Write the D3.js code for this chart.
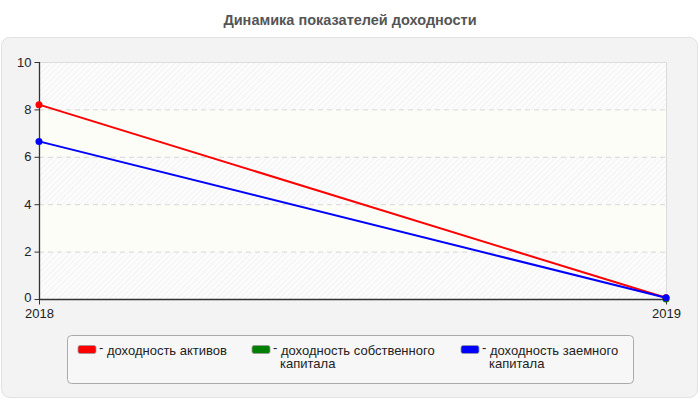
<!DOCTYPE html>
<html>
<head>
<meta charset="utf-8">
<script src="https://cdn.jsdelivr.net/npm/d3@7"></script>
<style>
	body { margin: 0; background: #fff; font-family: "Liberation Sans", Arial, sans-serif; }
	svg { display: block; }
</style>
</head>
<body>
<div id="chart"></div>
<script>
	// chart data
	const years = ['2018', '2019'];
	const seriesNames = ['доходность активов', 'доходность собственного капитала', 'доходность заемного капитала'];
	const seriesColors = ['#ff0000', '#008000', '#0000ff'];
	const assetsReturn = [8.2, 0.05];
	const equityReturn = [null, 0];
	const debtReturn = [6.65, 0.05];
	const yTicks = [0, 2, 4, 6, 8, 10];

	const width = 700;
	const height = 400;
	const margin = { top: 62, right: 34, bottom: 101, left: 39 };

	const svg = d3.select('#chart').append('svg').attr('width', width).attr('height', height);

	const defs = svg.append('defs');
	const hatch = defs.append('pattern')
		.attr('id', 'hatch')
		.attr('patternUnits', 'userSpaceOnUse')
		.attr('width', 4)
		.attr('height', 4)
		.attr('patternTransform', 'rotate(45)');
	hatch.append('rect').attr('width', 4).attr('height', 4).attr('fill', '#fcfcfc');
	hatch.append('line').attr('x1', 0).attr('y1', 0).attr('x2', 0).attr('y2', 4)
		.attr('stroke', '#ededed').attr('stroke-width', 1.2);

	// title
	svg.append('text')
		.attr('x', width / 2)
		.attr('y', 25)
		.attr('text-anchor', 'middle')
		.style('font-size', '14.5px')
		.style('font-weight', 'bold')
		.attr('fill', '#555')
		.text('Динамика показателей доходности');

	// panel
	svg.append('rect')
		.attr('x', 1.5).attr('y', 37.5)
		.attr('width', width - 4).attr('height', height - 40)
		.attr('rx', 8)
		.attr('fill', '#f3f3f3')
		.attr('stroke', '#e2e2e2');

	const x = d3.scalePoint().domain(years).range([margin.left, width - margin.right]);
	const y = d3.scaleLinear().domain([0, 10]).range([height - margin.bottom, margin.top]);

	// bands
	const bands = d3.pairs(yTicks);
	svg.append('g').selectAll('rect')
		.data(bands)
		.enter()
		.append('rect')
		.attr('x', margin.left)
		.attr('y', d => y(d[1]))
		.attr('width', width - margin.right - margin.left)
		.attr('height', d => y(d[0]) - y(d[1]))
		.attr('fill', (d, i) => i % 2 === 0 ? 'url(#hatch)' : '#fdfdf7');

	// grid
	svg.append('g').selectAll('line')
		.data(yTicks.slice(1, -1))
		.enter()
		.append('line')
		.attr('x1', margin.left)
		.attr('x2', width - margin.right)
		.attr('y1', d => y(d) + 0.5)
		.attr('y2', d => y(d) + 0.5)
		.attr('stroke', '#d8d8d8')
		.attr('stroke-dasharray', '5,4');

	// top/right frame of plot
	svg.append('path')
		.attr('d', `M${margin.left},${margin.top + 0.5}H${width - margin.right + 0.5}V${height - margin.bottom}`)
		.attr('fill', 'none')
		.attr('stroke', '#dcdcdc');

	// axes
	const yAxis = svg.append('g')
		.attr('transform', `translate(${margin.left + 0.5},0)`)
		.call(d3.axisLeft(y).tickValues(yTicks).tickSize(5).tickPadding(3));
	const xAxis = svg.append('g')
		.attr('transform', `translate(0,${height - margin.bottom + 0.5})`)
		.call(d3.axisBottom(x).tickSize(5).tickPadding(4));
	[yAxis, xAxis].forEach(a => {
		a.select('.domain').attr('stroke', '#333').attr('stroke-width', 1.3);
		a.selectAll('.tick line').attr('stroke', '#333');
		a.selectAll('text').attr('fill', '#222').style('font-size', '13px').style('font-family', '"Liberation Sans", Arial, sans-serif');
	});
	xAxis.select('.domain').attr('d', `M${margin.left},0H${width - margin.right}`);
	yAxis.select('.domain').attr('d', `M0,${height - margin.bottom}V${margin.top}`);
	// lift the "0" label a touch so it clears the year below
	yAxis.selectAll('.tick').filter(d => d === 0).select('text').attr('dy', '0.2em');

	// lines
	const allSeries = [assetsReturn, equityReturn, debtReturn];
	const line = d3.line()
		.defined(d => d != null)
		.x((d, i) => x(years[i]))
		.y(d => y(d));

	const order = [1, 0, 2];
	order.forEach(s => {
		const values = allSeries[s];
		svg.append('path')
			.datum(values)
			.attr('fill', 'none')
			.attr('stroke', seriesColors[s])
			.attr('stroke-width', 2)
			.attr('d', line);
		svg.append('g').selectAll('circle')
			.data(values.map((v, i) => ({ v, i })).filter(d => d.v != null))
			.enter()
			.append('circle')
			.attr('cx', d => x(years[d.i]))
			.attr('cy', d => y(d.v))
			.attr('r', 3.5)
			.attr('fill', seriesColors[s]);
	});

	// legend
	const legend = svg.append('g');
	legend.append('rect')
		.attr('x', 67.5).attr('y', 335.5)
		.attr('width', 566).attr('height', 48)
		.attr('rx', 4)
		.attr('fill', '#f7f7f7')
		.attr('stroke', '#aaa');

	const legendX = [78, 252, 461];
	const legendLines = [
		['доходность активов'],
		['доходность собственного', 'капитала'],
		['доходность заемного', 'капитала'],
	];
	seriesNames.forEach((name, i) => {
		const g = legend.append('g').attr('transform', `translate(${legendX[i]},0)`);
		g.append('rect')
			.attr('x', 0).attr('y', 345.5)
			.attr('width', 18).attr('height', 8)
			.attr('rx', 2)
			.attr('fill', seriesColors[i])
			.attr('stroke', '#999')
			.attr('stroke-width', 0.8);
		const t = g.append('text')
			.attr('x', 21).attr('y', 352)
			.style('font-size', '13px')
			.attr('fill', '#222');
		t.append('tspan').text('- ');
		legendLines[i].forEach((s, j) => {
			t.append('tspan')
				.attr('x', j === 0 ? null : 28)
				.attr('y', 355 + j * 13)
				.text(s);
		});
	});
</script>
</body>
</html>
